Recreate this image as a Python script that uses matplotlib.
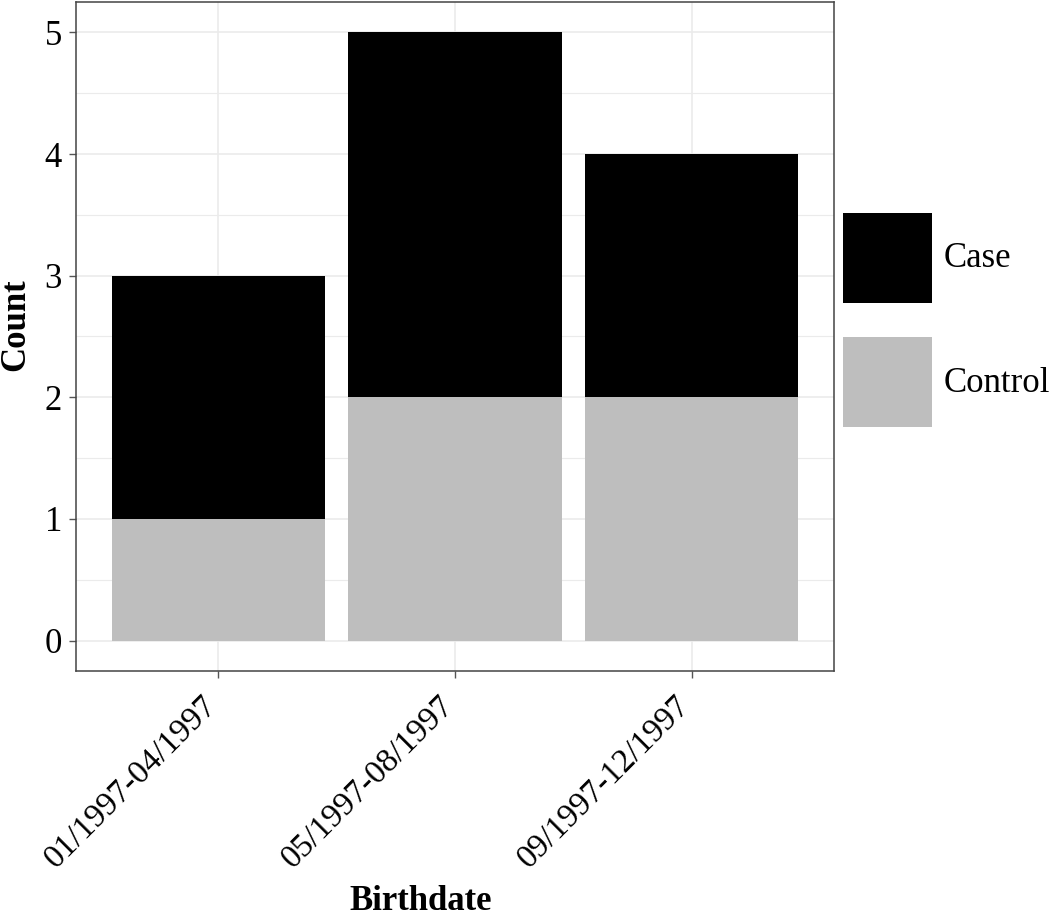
import numpy as np
import matplotlib.pyplot as plt
import matplotlib.transforms as mtransforms
from matplotlib.ticker import MultipleLocator

plt.rcParams['font.family'] = ['Liberation Serif', 'DejaVu Serif']

# data
periods = ['01/1997-04/1997', '05/1997-08/1997', '09/1997-12/1997']
groups = ['Case', 'Control']
control = [1, 2, 2]
case = [2, 3, 2]
colors = {'Case': '#000000', 'Control': '#bebebe'}

fig = plt.figure(figsize=(10.5, 9.17), dpi=100)
ax = fig.add_axes([76 / 1050, 1 - 671 / 917, (834 - 76) / 1050, (671 - 2) / 917])

x = np.arange(1, len(periods) + 1)
h_ctrl = ax.bar(x, control, width=0.9, color=colors['Control'], zorder=3)
h_case = ax.bar(x, case, bottom=control, width=0.9, color=colors['Case'], zorder=3)

ax.set_xlim(0.4, 3.6)
ax.set_ylim(-0.25, 5.25)
ax.set_xticks(x)
ax.set_xticklabels(periods, rotation=45, ha='right', va='top', rotation_mode='anchor', fontsize=24)
ax.yaxis.set_major_locator(MultipleLocator(1))
ax.yaxis.set_minor_locator(MultipleLocator(0.5))
ax.tick_params(axis='y', labelsize=25)
ax.tick_params(which='major', length=5, width=1, color='#555555', pad=5)
ax.tick_params(which='minor', length=0)

ax.grid(which='major', color='#ebebeb', lw=1.2, zorder=0)
ax.grid(which='minor', axis='y', color='#ebebeb', lw=0.8, zorder=0)
for s in ax.spines.values():
    s.set_color('#444444')
    s.set_linewidth(1.1)

ax.set_xlabel('Birthdate', fontsize=25, fontweight='bold', va='center')
ax.xaxis.set_label_coords((421 - 76) / 758, -(901 - 671) / 669)
ax.set_ylabel('Count', fontsize=25, fontweight='bold', va='center')
ax.yaxis.set_label_coords((16 - 76) / 758, (671 - 325) / 669)

leg = fig.legend([h_case, h_ctrl], groups, loc='center left',
                 bbox_to_anchor=(843 / 1050, 1 - 320 / 917), frameon=False,
                 fontsize=25, handlelength=2.55, handleheight=3.6,
                 labelspacing=1.0, handletextpad=0.35, borderaxespad=0,
                 borderpad=0)

# nudge rotated labels a bit left/down like the original
fig.canvas.draw()
shift = mtransforms.ScaledTranslation(-17 / 100, -5 / 100, fig.dpi_scale_trans)
for t in ax.xaxis.get_major_ticks():
    t.label1.set_transform(t.label1.get_transform() + shift)

fig.savefig('out.png', dpi=100)
